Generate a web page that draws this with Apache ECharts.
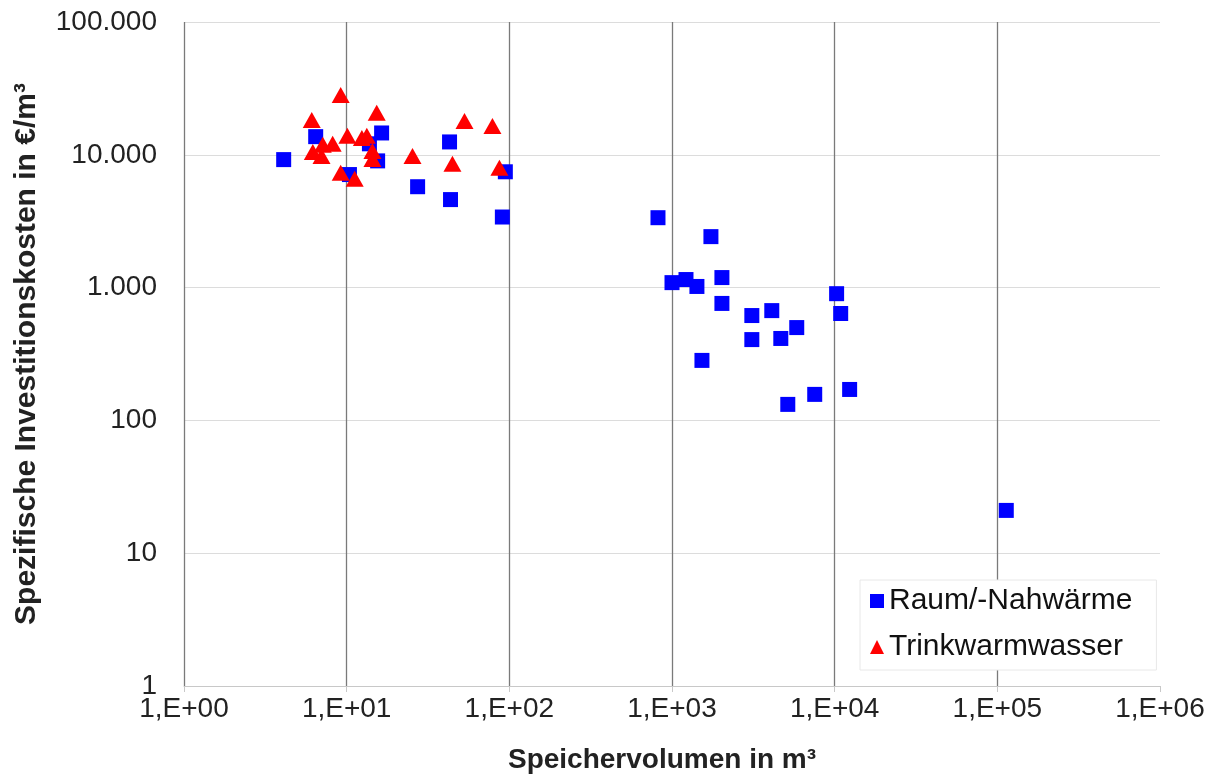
<!DOCTYPE html>
<html><head><meta charset="utf-8">
<script src="https://cdn.jsdelivr.net/npm/echarts@6/dist/echarts.min.js"></script>
<style>html,body{margin:0;padding:0;background:#fff}#c{width:1223px;height:780px}</style>
</head><body><div id="c"></div>
<script>
const seriesNames = ['Raum/-Nahwärme', 'Trinkwarmwasser'];
const xTitle = 'Speichervolumen in m³';
const yTitle = 'Spezifische Investitionskosten in €/m³';
const raumData = [
  [4.1, 9200], [6.45, 13700], [10.4, 7100], [13.8, 12100], [16.4, 14600], [15.5, 9000],
  [27.3, 5750], [42.9, 12500], [43.5, 4600], [94.5, 7450], [90.6, 3400],
  [820, 3360], [1735, 2420], [1000, 1090], [1219, 1150], [1423, 1020], [2027, 1190], [2027, 760],
  [3096, 616], [4106, 671], [5846, 500], [3096, 406], [4665, 414], [1528, 283],
  [10280, 900], [10890, 638], [12360, 171], [7540, 157], [5150, 132], [113500, 21]
];
const trinkData = [
  [9.19, 28250], [6.1, 18300], [15.3, 20700], [53, 18000], [78.7, 16500], [10.1, 13900],
  [12.4, 13400], [13.3, 13900], [8.2, 12100], [7.13, 11900], [6.19, 10500], [7.0, 9800],
  [14.4, 10700], [14.4, 9300], [25.4, 9800], [44.7, 8560], [86.9, 7980], [9.19, 7330], [11.2, 6600]
];
const xRange = [1, 1e6];
const yRange = [1, 1e5];

function fmtY(v){ return String(Math.round(v)).replace(/\B(?=(\d{3})+(?!\d))/g, '.'); }
function fmtX(v){ const e = Math.round(Math.log10(v)); return '1,E+' + (e < 10 ? '0' : '') + e; }

const chart = echarts.init(document.getElementById('c'));
const font = "'Liberation Sans', Arial, sans-serif";
chart.setOption({
  animation: false,
  backgroundColor: '#fff',
  grid: { left: 184, right: 63, top: 22, bottom: 94, containLabel: false, outerBoundsMode: 'none' },
  legend: {
    orient: 'vertical', left: 860, top: 580, itemGap: 16,
    itemWidth: 14, itemHeight: 14,
    backgroundColor: '#fff', borderColor: '#e8e8e8', borderWidth: 1,
    padding: [6, 24, 8, 10],
    textStyle: { fontFamily: font, fontSize: 30, color: '#111' },
    data: seriesNames
  },
  xAxis: {
    type: 'log', logBase: 10, min: xRange[0], max: xRange[1],
    axisLine: { show: true, lineStyle: { color: '#c8c8c8', width: 1 } },
    axisTick: { show: true, length: 6, lineStyle: { color: '#c8c8c8' } },
    axisLabel: { formatter: fmtX, fontFamily: font, fontSize: 28, color: '#222', margin: 9 },
    splitLine: { show: true, showMaxLine: false, lineStyle: { color: '#7a7a7a', width: 1.3 } },
    minorTick: { show: false },
    name: xTitle, nameLocation: 'middle', nameGap: 60,
    nameTextStyle: { fontFamily: font, fontWeight: 'bold', fontSize: 28, color: '#222', padding: [0, 20, 0, 0] }
  },
  yAxis: {
    type: 'log', logBase: 10, min: yRange[0], max: yRange[1],
    axisLine: { show: false },
    axisTick: { show: false },
    axisLabel: { formatter: fmtY, fontFamily: font, fontSize: 28, color: '#222', margin: 27 },
    splitLine: { show: true, lineStyle: { color: '#dcdcdc', width: 1 } },
    name: yTitle, nameLocation: 'middle', nameGap: 142,
    nameTextStyle: { fontFamily: font, fontWeight: 'bold', fontSize: 30, color: '#222' }
  },
  series: [
    { name: seriesNames[0], type: 'scatter', symbol: 'rect', symbolSize: 15, data: raumData,
      itemStyle: { color: '#0000ff', opacity: 1 }, z: 2 },
    { name: seriesNames[1], type: 'scatter', symbol: 'triangle', symbolSize: [18, 16], data: trinkData,
      itemStyle: { color: '#ff0000', opacity: 1 }, z: 3 }
  ]
});
</script></body></html>
